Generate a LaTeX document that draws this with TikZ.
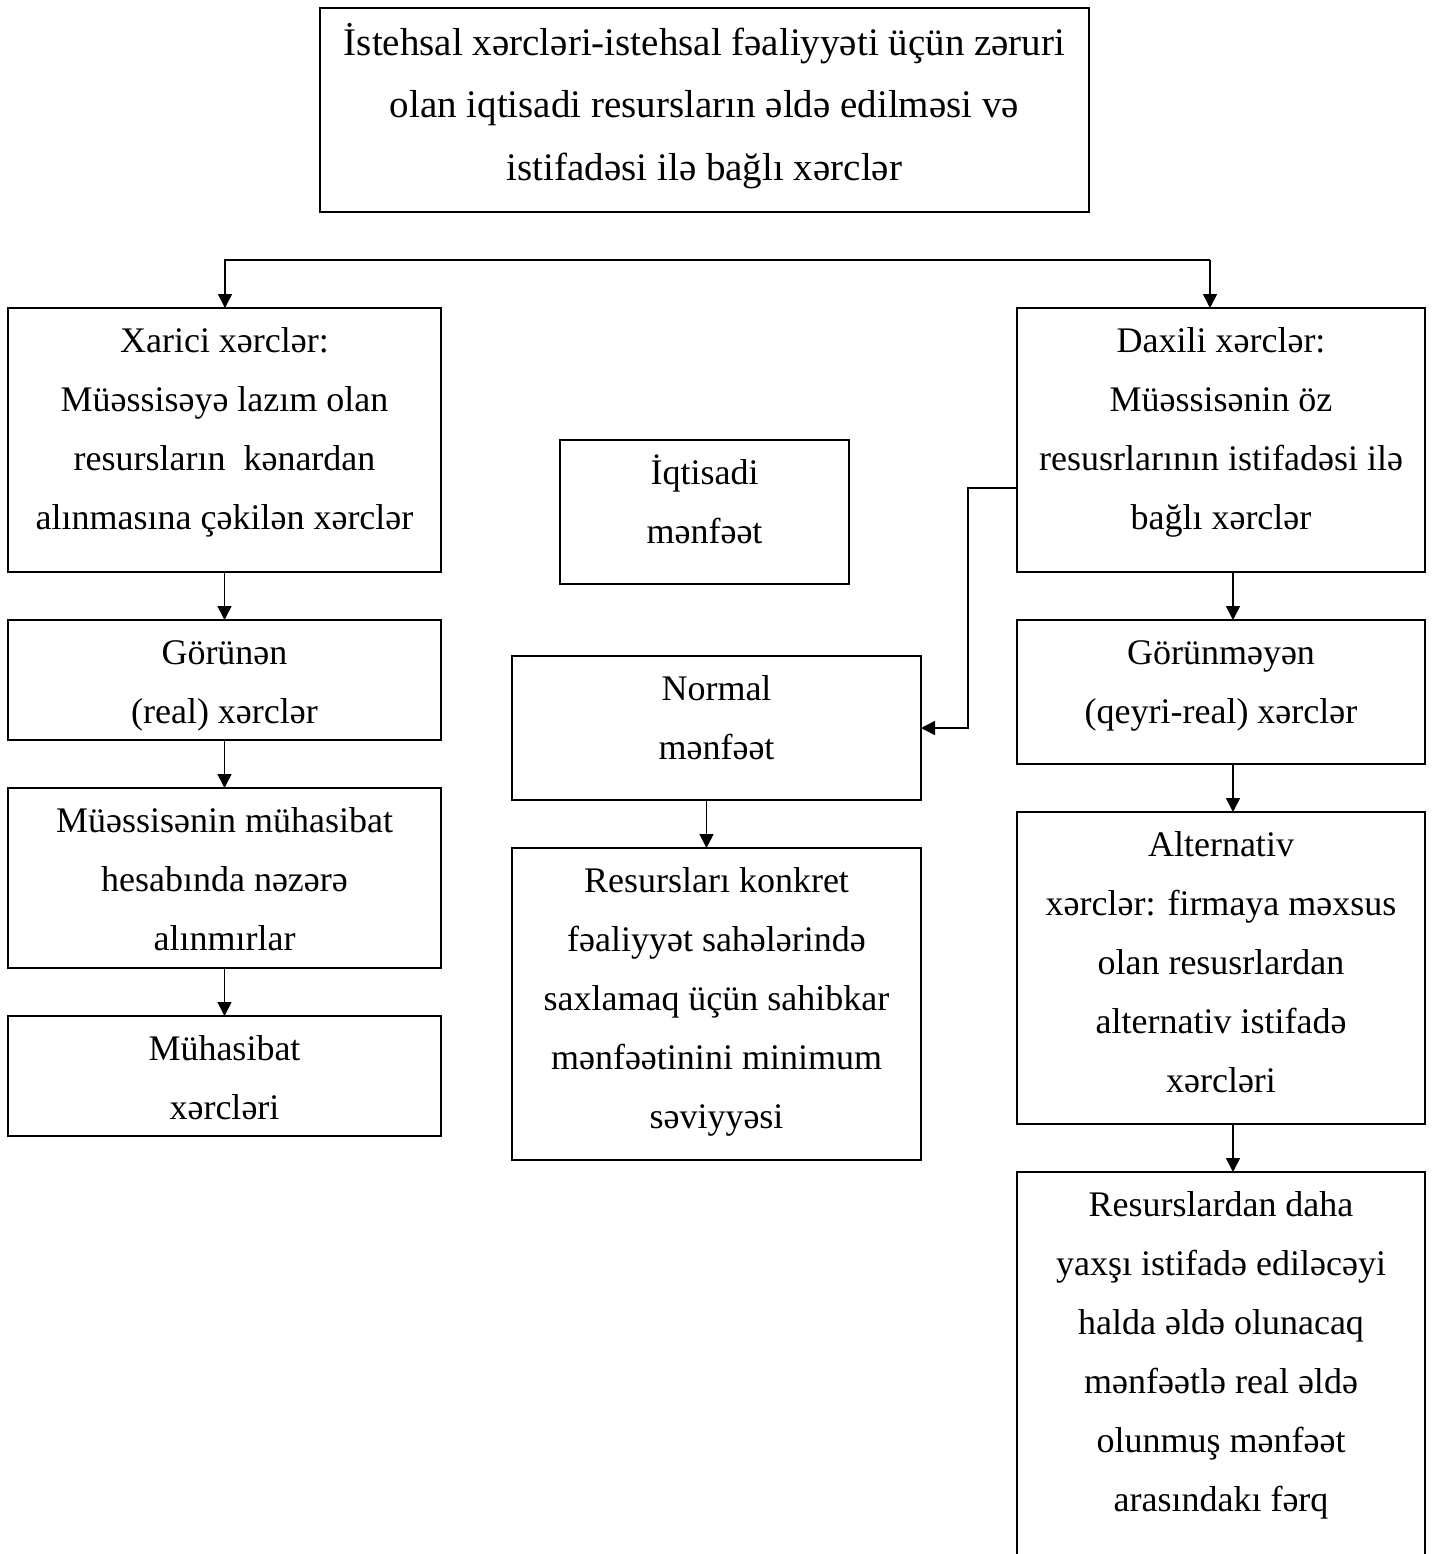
\documentclass[tikz,border=0pt]{standalone}
\usepackage{fontspec}
\setmainfont{Liberation Serif}
\usepackage{tikz}
\usetikzlibrary{arrows.meta, positioning}

% fixed-size cell, text hung from the top
\newcommand{\cell}[4][22pt]{\parbox[c][#2][t]{#3}{\centering\rule{0pt}{#1}#4\par}}

\begin{document}
\begin{tikzpicture}[
  x=0.5pt, y=-0.5pt,
  box/.style={draw=black, line width=0.8pt, inner sep=0pt, outer sep=0pt, anchor=north west, font=\fontsize{18pt}{29.5pt}\selectfont},
  arrow/.style={-{Triangle[length=7pt, width=7pt]}, line width=0.8pt, draw=black}
]
  \useasboundingbox (0,0) rectangle (1434,1554);
  \begin{scope}
  \clip (0,0) rectangle (1434,1554);

  % Top: definition
  \node[box, font=\fontsize{19.5pt}{31.25pt}\selectfont] (prod) at (320,8) {\cell[23.5pt]{102pt}{384.5pt}{İstehsal xərcləri-istehsal fəaliyyəti üçün zəruri\\olan iqtisadi resursların əldə edilməsi və\\istifadəsi ilə bağlı xərclər}};

  % Left column: external costs
  \node[box] (ext) at (8,308) {\cell{132pt}{216.5pt}{Xarici xərclər:\\Müəssisəyə lazım olan\\resursların\ \ kənardan\\alınmasına çəkilən xərclər}};
  \node[box, below=24pt of ext] (vis) {\cell{60pt}{216.5pt}{Görünən\\(real) xərclər}};
  \node[box, below=24pt of vis] (acct) {\cell{90pt}{216.5pt}{Müəssisənin mühasibat\\hesabında nəzərə\\alınmırlar}};
  \node[box, below=24pt of acct] (acctcost) {\cell{60pt}{216.5pt}{Mühasibat\\xərcləri}};
  \draw[arrow] (ext) -- (vis);
  \draw[arrow] (vis) -- (acct);
  \draw[arrow] (acct) -- (acctcost);

  % Middle column: profit
  \node[box] (econ) at (560,440) {\cell{72pt}{144.5pt}{İqtisadi\\mənfəət}};
  \node[box] (normal) at (512,656) {\cell{72pt}{204.5pt}{Normal\\mənfəət}};
  \node[box, below=24pt of normal] (minprofit) {\cell{156pt}{204.5pt}{Resursları konkret\\fəaliyyət sahələrində\\saxlamaq üçün sahibkar\\mənfəətinini minimum\\səviyyəsi}};
  \draw[arrow] ([xshift=-5pt]normal.south) -- ([xshift=-5pt]minprofit.north);

  % Right column: internal costs
  \node[box] (int) at (1017,308) {\cell{132pt}{204pt}{Daxili xərclər:\\Müəssisənin öz\\resusrlarının istifadəsi ilə\\bağlı xərclər}};
  \node[box, below=24pt of int] (invis) {\cell{72pt}{204pt}{Görünməyən\\(qeyri-real) xərclər}};
  \node[box, below=24pt of invis] (alt) {\cell{156pt}{204pt}{Alternativ\\xərclər: firmaya məxsus\\olan resusrlardan\\alternativ istifadə\\xərcləri}};
  \node[box, below=24pt of alt] (diff) {\cell{200pt}{204pt}{Resurslardan daha\\yaxşı istifadə ediləcəyi\\halda əldə olunacaq\\mənfəətlə real əldə\\olunmuş mənfəət\\arasındakı fərq}};
  \draw[arrow] ([xshift=6pt]int.south) -- ([xshift=6pt]invis.north);
  \draw[arrow] ([xshift=6pt]invis.south) -- ([xshift=6pt]alt.north);
  \draw[arrow] ([xshift=6pt]alt.south) -- ([xshift=6pt]diff.north);
  \draw[arrow] ([yshift=-24pt]int.west) -- ++(-24.5pt,0) |- (normal.east);

  % Split into the two branches
  \coordinate (busL) at (225,260);
  \coordinate (busR) at (1210,260);
  \draw[arrow] (busR) -- (busL) -- (busL |- ext.north);
  \draw[arrow] (busR) -- (busR |- int.north);
  \end{scope}

\end{tikzpicture}
\end{document}
